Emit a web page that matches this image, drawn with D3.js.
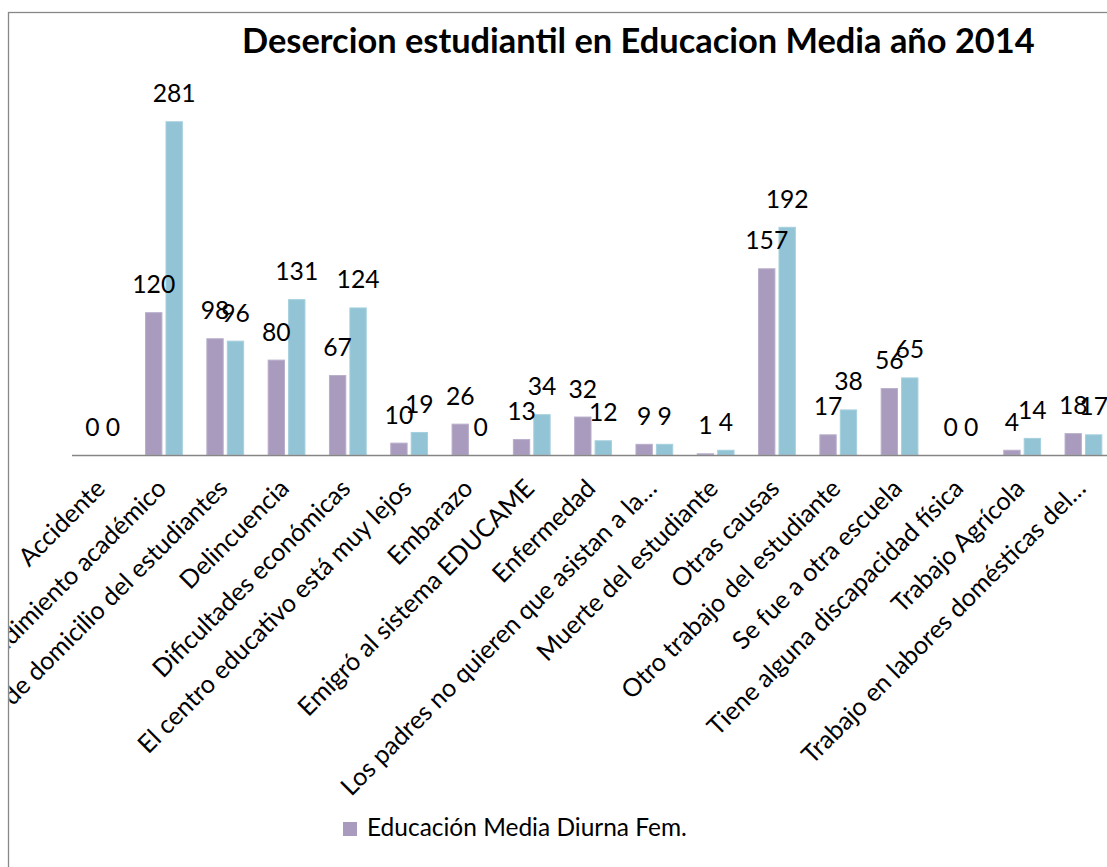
<!DOCTYPE html>
<html>
<head>
<meta charset="utf-8">
<script src="https://cdn.jsdelivr.net/npm/d3@7"></script>
<style>
  html, body { margin: 0; padding: 0; background: #fff; }
  svg { display: block; }
  text { font-family: Lato, "Open Sans", sans-serif; fill: #000; }
</style>
</head>
<body>
<svg id="chart" width="1107" height="867"></svg>
<script>
const title = "Desercion estudiantil en Educacion Media año 2014";
const categories = [
  "Accidente",
  "Bajo rendimiento académico",
  "Cambio de domicilio del estudiantes",
  "Delincuencia",
  "Dificultades económicas",
  "El centro educativo está muy lejos",
  "Embarazo",
  "Emigró al sistema EDUCAME",
  "Enfermedad",
  "Los padres no quieren que asistan a la…",
  "Muerte del estudiante",
  "Otras causas",
  "Otro trabajo del estudiante",
  "Se fue a otra escuela",
  "Tiene alguna discapacidad física",
  "Trabajo Agrícola",
  "Trabajo en labores domésticas del…"
];
const seriesNames = ["Educación Media Diurna Fem.", "Educación Media Diurna Masc."];
const femValues  = [0, 120, 98, 80, 67, 10, 26, 13, 32, 9, 1, 157, 17, 56, 0, 4, 18];
const mascValues = [0, 281, 96, 131, 124, 19, 0, 34, 12, 9, 4, 192, 38, 65, 0, 14, 17];
const legendShown = [seriesNames[0]];

const colors = ["#A99BBD", "#92C4D5"];
const strokes = ["#B9AECB", "#A6D0DE"];

const svg = d3.select("#chart");
const W = 1107, H = 867;

// chart frame (extends past the viewport on right and bottom)
svg.append("rect")
  .attr("x", 8.5).attr("y", 12.5)
  .attr("width", W + 20).attr("height", H + 20)
  .attr("fill", "#fff").attr("stroke", "#888").attr("stroke-width", 1.3);

svg.append("clipPath").attr("id", "clip")
  .append("rect").attr("x", 9.5).attr("y", 13.5).attr("width", W).attr("height", H);

const g = svg.append("g").attr("clip-path", "url(#clip)");

const axisY = 455;
const x0 = d3.scaleBand().domain(categories).range([72, 72 + 61.3 * categories.length]).padding(0);
const bw = x0.bandwidth();
const x1 = d3.scaleBand().domain([0, 1]).range([bw * 0.2, bw * 0.8]).paddingInner(0.2).paddingOuter(0);
const y = d3.scaleLinear().domain([0, 300]).range([axisY, axisY - 355.8]);

function fitSize(text, weight, target) {
  const t = svg.append("text").attr("font-size", 100).attr("font-weight", weight).text(text);
  const w = t.node().getComputedTextLength();
  t.remove();
  return 100 * target / w;
}
const labelSize = fitSize("Accidente", "normal", 110);
const valueSize = fitSize("281", "normal", 43);
const legendSize = fitSize(seriesNames[0], "normal", 320);
const titleSize = fitSize(title, "bold", 793);

// title
svg.append("text")
  .attr("x", 242).attr("y", 53)
  .attr("font-size", titleSize).attr("font-weight", "bold")
  .text(title);

const seriesData = [femValues, mascValues];

// bars
seriesData.forEach((vals, si) => {
  g.append("g").selectAll("rect")
    .data(vals)
    .join("rect")
    .attr("x", (d, i) => x0(categories[i]) + x1(si))
    .attr("y", d => y(d))
    .attr("width", x1.bandwidth())
    .attr("height", d => axisY - y(d))
    .attr("fill", colors[si])
    .attr("stroke", d => d > 0 ? strokes[si] : "none")
    .attr("stroke-width", 1);
});

// axis
const axis = g.append("g").attr("transform", `translate(0,${axisY})`)
  .call(d3.axisBottom(x0).tickSize(0).tickFormat(""));
axis.select(".domain").attr("stroke", "#868686").attr("stroke-width", 1.6)
  .attr("d", `M72,0.5H${W + 20}`);

// value labels
seriesData.forEach((vals, si) => {
  g.append("g").selectAll("text")
    .data(vals)
    .join("text")
    .attr("x", (d, i) => x0(categories[i]) + x1(si) + x1.bandwidth() / 2)
    .attr("y", d => y(d) - 19.5)
    .attr("text-anchor", "middle")
    .attr("font-size", valueSize)
    .text(d => d);
});

// category labels
g.append("g").selectAll("text")
  .data(categories)
  .join("text")
  .attr("text-anchor", "end")
  .attr("font-size", labelSize)
  .attr("transform", d => {
    const cx = x0(d) + bw / 2 + 4;
    const cy = axisY + 35;
    return `translate(${cx},${cy}) rotate(-45)`;
  })
  .text(d => d);

// legend
const leg = svg.append("g").attr("transform", "translate(343,822)");
legendShown.forEach((name, i) => {
  leg.append("rect").attr("x", 0).attr("y", 0).attr("width", 14).attr("height", 14).attr("fill", colors[i]);
  leg.append("text").attr("x", 24).attr("y", 14).attr("font-size", legendSize).text(name);
});
</script>
</body>
</html>
